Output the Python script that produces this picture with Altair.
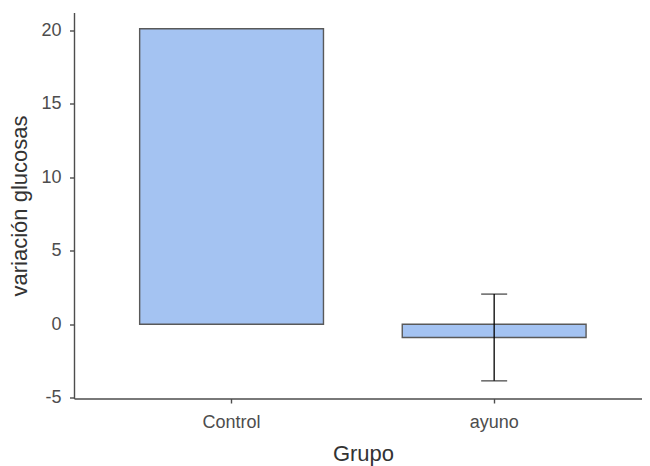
import altair as alt
import pandas as pd

# Data
grupos = ["Control", "ayuno"]
variacion = [20.1, -0.9]
err_grupo = ["ayuno"]
err_inf = [-3.85]
err_sup = [2.05]
y_ticks = [-5, 0, 5, 10, 15, 20]

bars_df = pd.DataFrame({"Grupo": grupos, "valor": variacion})
err_df = pd.DataFrame({"Grupo": err_grupo, "lo": err_inf, "hi": err_sup})

FONT = "Liberation Sans"

x_enc = alt.X(
    "Grupo:N",
    sort=grupos,
    scale=alt.Scale(paddingInner=0.3, paddingOuter=0.2315, align=0.54),
    axis=alt.Axis(
        title="Grupo",
        labelAngle=0,
        labelFontSize=18,
        labelColor="#4d4d4d",
        labelPadding=10,
        tickSize=4.5,
        titleFontSize=22,
        titleFontWeight="normal",
        titleColor="#333333",
        titlePadding=12,
        titleX=289,
    ),
)
y_scale = alt.Scale(domain=[-5.05, 21.2], nice=False, zero=False)
y_enc = alt.Y(
    "valor:Q",
    scale=y_scale,
    axis=alt.Axis(
        title="variación glucosas",
        values=y_ticks,
        labelExpr="'' + datum.value",
        labelFontSize=18,
        labelColor="#4d4d4d",
        labelPadding=8.5,
        tickSize=4.5,
        grid=False,
        titleFontSize=22,
        titleFontWeight="normal",
        titleColor="#333333",
        titlePadding=9,
    ),
)

bars = alt.Chart(bars_df).mark_bar(
    fill="#a4c3f2", stroke="#595959", strokeWidth=1.4
).encode(x=x_enc, y=y_enc, y2=alt.datum(0))

rule = alt.Chart(err_df).mark_rule(color="black", strokeWidth=1.3).encode(
    x=alt.X("Grupo:N", sort=grupos),
    y=alt.Y("lo:Q", scale=y_scale),
    y2="hi:Q",
)
cap_lo = alt.Chart(err_df).mark_tick(color="black", size=26, thickness=1.3).encode(
    x=alt.X("Grupo:N", sort=grupos), y=alt.Y("lo:Q", scale=y_scale)
)
cap_hi = alt.Chart(err_df).mark_tick(color="black", size=26, thickness=1.3).encode(
    x=alt.X("Grupo:N", sort=grupos), y=alt.Y("hi:Q", scale=y_scale)
)

chart = (
    alt.layer(bars, rule, cap_lo, cap_hi)
    .properties(
        width=568,
        height=386,
        autosize="none",
        background="white",
        padding={"left": 66, "top": 4.5, "right": 0, "bottom": 67.5},
    )
    .configure_view(strokeWidth=0)
    .configure_axis(
        domainColor="#4d4d4d",
        domainWidth=1.4,
        tickColor="#4d4d4d",
        tickWidth=1.4,
        labelFont=FONT,
        titleFont=FONT,
        grid=False,
    )
)

chart.save("out.html", embed_options={"renderer": "svg", "actions": False})
